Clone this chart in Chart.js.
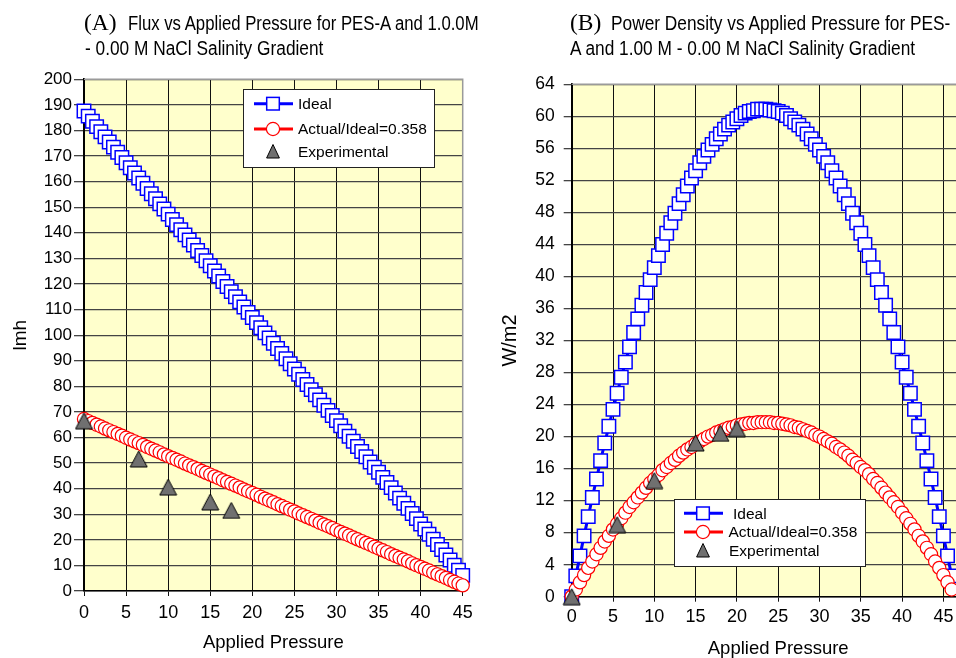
<!DOCTYPE html>
<html><head><meta charset="utf-8">
<script src="https://cdn.jsdelivr.net/npm/chart.js@4.4.1/dist/chart.umd.min.js"></script>
<style>
html,body{margin:0;padding:0;background:#fff;width:956px;height:658px;overflow:hidden;position:relative}
#c1{position:absolute;left:0;top:0}
#c2{position:absolute;left:480px;top:0}
.t{position:absolute;white-space:nowrap;color:#000;font-family:'Liberation Sans',Arial,sans-serif;font-size:19.5px;line-height:1;transform:scaleX(0.887);transform-origin:0 0}
.s{position:absolute;white-space:nowrap;color:#000;font-family:'Liberation Serif','Times New Roman',serif;font-size:23.5px;line-height:1}
</style></head><body>
<canvas id="c1" width="480" height="658"></canvas>
<canvas id="c2" width="520" height="660"></canvas>
<div class="s" style="left:84px;top:11px">(A)</div>
<div class="t" style="left:128px;top:14.2px;transform:scaleX(0.858)">Flux vs Applied Pressure for PES-A and 1.0.0M</div>
<div class="t" style="left:85px;top:38.5px">- 0.00 M NaCl Salinity Gradient</div>
<div class="s" style="left:570px;top:11px">(B)</div>
<div class="t" style="left:611px;top:14.2px">Power Density vs Applied Pressure for PES-</div>
<div class="t" style="left:570px;top:38.5px">A and 1.00 M - 0.00 M NaCl Salinity Gradient</div>
<script>
// ---------------- data ----------------
const pressure = [
 0,0.5,1,1.5,2,2.5,3,3.5,4,4.5,
 5,5.5,6,6.5,7,7.5,8,8.5,9,9.5,
 10,10.5,11,11.5,12,12.5,13,13.5,14,14.5,
 15,15.5,16,16.5,17,17.5,18,18.5,19,19.5,
 20,20.5,21,21.5,22,22.5,23,23.5,24,24.5,
 25,25.5,26,26.5,27,27.5,28,28.5,29,29.5,
 30,30.5,31,31.5,32,32.5,33,33.5,34,34.5,
 35,35.5,36,36.5,37,37.5,38,38.5,39,39.5,
 40,40.5,41,41.5,42,42.5,43,43.5,44,44.5,
 45,45.5,46];
const idealFlux = [
 187.6,185.6,183.6,181.5,179.5,177.5,175.5,173.5,171.5,169.4,
 167.4,165.4,163.4,161.4,159.4,157.3,155.3,153.3,151.3,149.3,
 147.3,145.2,143.2,141.2,139.2,137.2,135.2,133.1,131.1,129.1,
 127.1,125.1,123.1,121.0,119.0,117.0,115.0,113.0,111.0,108.9,
 106.9,104.9,102.9,100.9,98.9,96.8,94.8,92.8,90.8,88.8,
 86.8,84.7,82.7,80.7,78.7,76.7,74.7,72.6,70.6,68.6,
 66.6,64.6,62.5,60.5,58.5,56.5,54.5,52.5,50.4,48.4,
 46.4,44.4,42.4,40.4,38.3,36.3,34.3,32.3,30.3,28.3,
 26.2,24.2,22.2,20.2,18.2,16.2,14.1,12.1,10.1,8.1,
 6.1,4.1,2.0];
const actualFlux = [
 67.2,66.4,65.7,65.0,64.3,63.5,62.8,62.1,61.4,60.7,
 59.9,59.2,58.5,57.8,57.1,56.3,55.6,54.9,54.2,53.4,
 52.7,52.0,51.3,50.6,49.8,49.1,48.4,47.7,46.9,46.2,
 45.5,44.8,44.1,43.3,42.6,41.9,41.2,40.5,39.7,39.0,
 38.3,37.6,36.8,36.1,35.4,34.7,33.9,33.2,32.5,31.8,
 31.1,30.3,29.6,28.9,28.2,27.5,26.7,26.0,25.3,24.6,
 23.8,23.1,22.4,21.7,20.9,20.2,19.5,18.8,18.1,17.3,
 16.6,15.9,15.2,14.4,13.7,13.0,12.3,11.6,10.8,10.1,
 9.4,8.7,8.0,7.2,6.5,5.8,5.1,4.3,3.6,2.9,
 2.2,1.5,0.7];
const idealPower = [
 0,2.6,5.1,7.6,10.0,12.4,14.7,17.0,19.2,21.3,
 23.4,25.4,27.4,29.3,31.2,33.0,34.7,36.4,38.0,39.6,
 41.1,42.6,44.0,45.4,46.7,47.9,49.1,50.2,51.3,52.3,
 53.2,54.2,55.0,55.8,56.5,57.2,57.8,58.4,58.9,59.3,
 59.7,60.1,60.4,60.6,60.7,60.9,60.9,60.9,60.8,60.7,
 60.6,60.4,60.1,59.7,59.3,58.9,58.4,57.8,57.2,56.5,
 55.8,55.0,54.2,53.2,52.3,51.3,50.2,49.1,47.9,46.7,
 45.4,44.0,42.6,41.1,39.6,38.0,36.4,34.7,33.0,31.2,
 29.3,27.4,25.4,23.4,21.3,19.2,17.0,14.7,12.4,10.0,
 7.6,5.1,2.6];
const actualPower = [
 0,0.9,1.8,2.7,3.6,4.4,5.3,6.1,6.9,7.6,
 8.4,9.1,9.8,10.5,11.2,11.8,12.4,13.0,13.6,14.2,
 14.7,15.2,15.8,16.2,16.7,17.1,17.6,18.0,18.4,18.7,
 19.1,19.4,19.7,20.0,20.2,20.5,20.7,20.9,21.1,21.2,
 21.4,21.5,21.6,21.7,21.7,21.8,21.8,21.8,21.8,21.7,
 21.7,21.6,21.5,21.4,21.2,21.1,20.9,20.7,20.5,20.2,
 20.0,19.7,19.4,19.1,18.7,18.4,18.0,17.6,17.1,16.7,
 16.2,15.8,15.3,14.7,14.2,13.6,13.0,12.4,11.8,11.2,
 10.5,9.8,9.1,8.4,7.6,6.9,6.1,5.3,4.4,3.6,
 2.7,1.8,0.9];
const expFluxPressure = [0, 6.5, 10, 15, 17.5];
const expFlux = [66.5, 51.6, 40.6, 34.8, 31.5];
const expPowerPressure = [0, 5.5, 10, 15, 18, 20];
const expPower = [0, 9.0, 14.5, 19.2, 20.4, 21.0];
const seriesNames = ['Ideal', 'Actual/Ideal=0.358', 'Experimental'];
const fluxTicks = {min: 0, max: 200, step: 10};
const powerTicks = {min: 0, max: 64, step: 4};
const xTicksFlux = {min: 0, max: 45, step: 5};
const xTicksPower = {min: 0, max: 50, step: 5};

// ---------------- styles ----------------
const NARROW = "'Liberation Sans Narrow','Liberation Sans',Arial,sans-serif";
const SANS = "'Liberation Sans',Arial,sans-serif";
const BLUE = '#0000ff', RED = '#ff0000';

function makeTri(w, h) {
  const c = document.createElement('canvas');
  c.width = w + 2; c.height = h + 2;
  const g = c.getContext('2d');
  g.beginPath(); g.moveTo((w + 2) / 2, 1); g.lineTo(w + 1, h + 1); g.lineTo(1, h + 1); g.closePath();
  g.fillStyle = '#707070'; g.fill(); g.lineWidth = 1; g.strokeStyle = '#000'; g.stroke();
  return c;
}
const tri = makeTri(17, 16);

const pts = (xs, ys) => xs.map((x, i) => ({x: x, y: ys[i]}));

const bgPlugin = {
  id: 'bg',
  beforeDraw(chart) {
    const {ctx, chartArea: a} = chart;
    ctx.save(); ctx.fillStyle = '#FFFFCC';
    ctx.fillRect(a.left, a.top, a.right - a.left, a.bottom - a.top); ctx.restore();
  },
  beforeDatasetsDraw(chart) {
    const {ctx, chartArea: a} = chart;
    ctx.save(); ctx.strokeStyle = '#9a9a9a'; ctx.lineWidth = 1.5;
    ctx.beginPath(); ctx.moveTo(a.left, a.top); ctx.lineTo(a.right, a.top); ctx.lineTo(a.right, a.bottom); ctx.stroke();
    ctx.restore();
  }
};

const legendPlugin = {
  id: 'lg',
  afterDatasetsDraw(chart, args, o) {
    const ctx = chart.ctx;
    ctx.save();
    ctx.fillStyle = '#fff'; ctx.fillRect(o.x, o.y, o.w, o.h);
    ctx.strokeStyle = '#222'; ctx.lineWidth = 1; ctx.strokeRect(o.x + 0.5, o.y + 0.5, o.w, o.h);
    let y = o.rows[0];
    ctx.strokeStyle = BLUE; ctx.lineWidth = 3;
    ctx.beginPath(); ctx.moveTo(o.l0, y); ctx.lineTo(o.l1, y); ctx.stroke();
    ctx.fillStyle = '#fff'; ctx.lineWidth = 1.5;
    ctx.fillRect(o.mx - 6.3, y - 6.3, 12.6, 12.6); ctx.strokeRect(o.mx - 6.3, y - 6.3, 12.6, 12.6);
    y = o.rows[1];
    ctx.strokeStyle = RED; ctx.lineWidth = 3;
    ctx.beginPath(); ctx.moveTo(o.l0, y); ctx.lineTo(o.l1, y); ctx.stroke();
    ctx.lineWidth = 1.2; ctx.beginPath(); ctx.arc(o.mx, y, 6.6, 0, Math.PI * 2); ctx.fill(); ctx.stroke();
    y = o.rows[2];
    ctx.beginPath(); ctx.moveTo(o.mx, y - 7); ctx.lineTo(o.mx + 6.4, y + 6.5); ctx.lineTo(o.mx - 6.4, y + 6.5); ctx.closePath();
    ctx.fillStyle = '#707070'; ctx.fill(); ctx.strokeStyle = '#000'; ctx.lineWidth = 1; ctx.stroke();
    ctx.fillStyle = '#000'; ctx.font = '15.5px ' + SANS; ctx.textBaseline = 'middle'; ctx.textAlign = 'left';
    seriesNames.forEach((n, i) => ctx.fillText(n, o.tx[i], o.rows[i] + 1));
    ctx.restore();
  }
};

function datasets(xs, ideal, actual, ex, ey, xMax) {
  const hideBeyond = r => c => (c.raw && c.raw.x > xMax + 0.01) ? 0 : r;
  return [
    {label: seriesNames[0], data: pts(xs, ideal), showLine: true, borderColor: BLUE, borderWidth: 3,
     pointStyle: 'rect', pointRadius: hideBeyond(9.5), pointBackgroundColor: '#fff', pointBorderColor: BLUE,
     pointBorderWidth: 1.5, clip: false, order: 3},
    {label: seriesNames[1], data: pts(xs, actual), showLine: true, borderColor: RED, borderWidth: 3,
     pointStyle: 'circle', pointRadius: hideBeyond(6.6), pointBackgroundColor: '#fff', pointBorderColor: RED,
     pointBorderWidth: 1.2, clip: false, order: 2},
    {label: seriesNames[2], data: pts(ex, ey), showLine: false, pointStyle: tri, pointRadius: 9,
     clip: false, order: 1}
  ];
}

function scales(o) {
  return {
    x: {type: 'linear', min: o.xt.min, max: o.xt.max,
        afterFit: s => { s.height = o.xh; },
        ticks: {stepSize: o.xt.step, color: '#000', font: {family: NARROW, size: 18}, padding: o.xpad, maxRotation: 0, autoSkip: false},
        grid: {color: '#111', lineWidth: 1, tickLength: 5},
        border: {color: '#000', width: 1.5},
        title: {display: true, text: 'Applied Pressure', color: '#000', font: {family: SANS, size: 18.5}, padding: {top: 0, bottom: o.xtp}}},
    y: {type: 'linear', min: o.yt.min, max: o.yt.max,
        afterFit: s => { s.width = o.yw; },
        ticks: {stepSize: o.yt.step, color: '#000', font: {family: o.yfam, size: o.yfs}, padding: o.ypad, autoSkip: false},
        grid: {color: '#444', lineWidth: 1.3, tickLength: o.ytl},
        border: {color: '#000', width: 2},
        title: {display: true, text: o.ytitle, color: '#000', font: {family: SANS, size: o.ytfs}, padding: {top: o.ytp, bottom: 0}}}
  };
}

Chart.defaults.animation = false;

new Chart(document.getElementById('c1'), {
  type: 'scatter',
  data: {datasets: datasets(pressure, idealFlux, actualFlux, expFluxPressure, expFlux, 45)},
  options: {
    responsive: false, animation: false,
    layout: {padding: {top: 79.3, right: 17.3, bottom: 0, left: 0}},
    plugins: {legend: {display: false}, tooltip: {enabled: false},
      lg: {x: 243, y: 89, w: 191, h: 78, rows: [103.7, 129, 151.5], l0: 254, l1: 293, mx: 273, tx: [298, 298, 298]}},
    scales: scales({xt: xTicksFlux, yt: fluxTicks, xh: 67, xpad: 6, xtp: 3.5, yw: 84, yfam: SANS, yfs: 17, ypad: 2, ytl: 10,
                    ytitle: 'lmh', ytfs: 19, ytp: 9})
  },
  plugins: [bgPlugin, legendPlugin]
});

new Chart(document.getElementById('c2'), {
  type: 'scatter',
  data: {datasets: datasets(pressure, idealPower, actualPower, expPowerPressure, expPower, 50)},
  options: {
    responsive: false, animation: false,
    layout: {padding: {top: 84.3, right: 15.3, bottom: 0, left: 0}},
    plugins: {legend: {display: false}, tooltip: {enabled: false},
      lg: {x: 194, y: 499, w: 191, h: 67, rows: [513.3, 532, 550.5], l0: 204, l1: 243, mx: 223, tx: [253, 248.5, 249]}},
    scales: scales({xt: xTicksPower, yt: powerTicks, xh: 63.3, xpad: 5, xtp: 0, yw: 91.7, yfam: NARROW, yfs: 17.5, ypad: 9, ytl: 8,
                    ytitle: 'W/m2', ytfs: 20, ytp: 18.5})
  },
  plugins: [bgPlugin, legendPlugin]
});
</script>
</body></html>
